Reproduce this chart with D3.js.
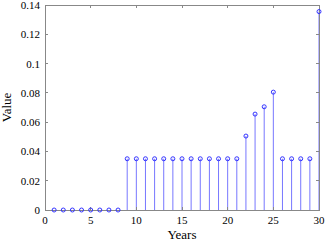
<!DOCTYPE html>
<html><head><meta charset="utf-8">
<script src="https://cdn.jsdelivr.net/npm/d3@7"></script>
<style>body{margin:0;background:#fff}svg{display:block}text{font-family:"Liberation Serif","Times New Roman",serif;fill:#000}</style>
</head><body><svg id="c" width="327" height="242"></svg>
<script>
const years = [1,2,3,4,5,6,7,8,9,10,11,12,13,14,15,16,17,18,19,20,21,22,23,24,25,26,27,28,29,30];
const values = [0,0,0,0,0,0,0,0,0.035,0.035,0.035,0.035,0.035,0.035,0.035,0.035,0.035,0.035,0.035,0.035,0.035,0.0505,0.0655,0.0705,0.0805,0.035,0.035,0.035,0.035,0.1355];
const xTicks = [0,5,10,15,20,25,30];
const yTicks = [0,0.02,0.04,0.06,0.08,0.1,0.12,0.14];
const yTickLabels = ["0","0.02","0.04","0.06","0.08","0.1","0.12","0.14"];

const svg = d3.select("#c");
const L=45,R=319,T=5,B=210;
const x = d3.scaleLinear().domain([0,30]).range([L,R]);
const y = d3.scaleLinear().domain([0,0.14]).range([B,T]);
const axisCol="#888";

// stems
svg.append("g").selectAll("line").data(years.map((d,i)=>({x:d,v:values[i]})).filter(d=>d.v>0))
 .join("line").attr("x1",d=>x(d.x)).attr("x2",d=>x(d.x)).attr("y1",y(0)).attr("y2",d=>y(d.v))
 .attr("stroke","#7777ff").attr("stroke-width",1);

// box
const g=svg.append("g").attr("stroke",axisCol).attr("fill","none").attr("shape-rendering","crispEdges");
g.append("rect").attr("x",L).attr("y",T).attr("width",R-L).attr("height",B-T);
xTicks.forEach(t=>{
  g.append("line").attr("x1",x(t)).attr("x2",x(t)).attr("y1",B).attr("y2",B-3);
  g.append("line").attr("x1",x(t)).attr("x2",x(t)).attr("y1",T).attr("y2",T+3);
});
yTicks.forEach(t=>{
  g.append("line").attr("x1",L).attr("x2",L+3).attr("y1",y(t)).attr("y2",y(t));
  g.append("line").attr("x1",R).attr("x2",R-3).attr("y1",y(t)).attr("y2",y(t));
});

// markers
svg.append("g").selectAll("circle").data(years.map((d,i)=>({x:d,v:values[i]})))
 .join("circle").attr("cx",d=>x(d.x)).attr("cy",d=>y(d.v)).attr("r",2)
 .attr("fill","none").attr("stroke","#3333ff").attr("stroke-width",1);

// labels
svg.append("g").selectAll("text").data(xTicks).join("text")
 .attr("x",d=>x(d)).attr("y",B+14).attr("text-anchor","middle").attr("font-size",11).text(d=>d);
svg.append("g").selectAll("text").data(yTicks).join("text")
 .attr("x",L-5).attr("y",d=>y(d)+4).attr("text-anchor","end").attr("font-size",11).text((d,i)=>yTickLabels[i]);
svg.append("text").attr("x",(L+R)/2).attr("y",B+29).attr("text-anchor","middle").attr("font-size",13).text("Years");
svg.append("text").attr("transform",`translate(11,${(T+B)/2}) rotate(-90)`).attr("text-anchor","middle").attr("font-size",13).text("Value");
</script></body></html>
